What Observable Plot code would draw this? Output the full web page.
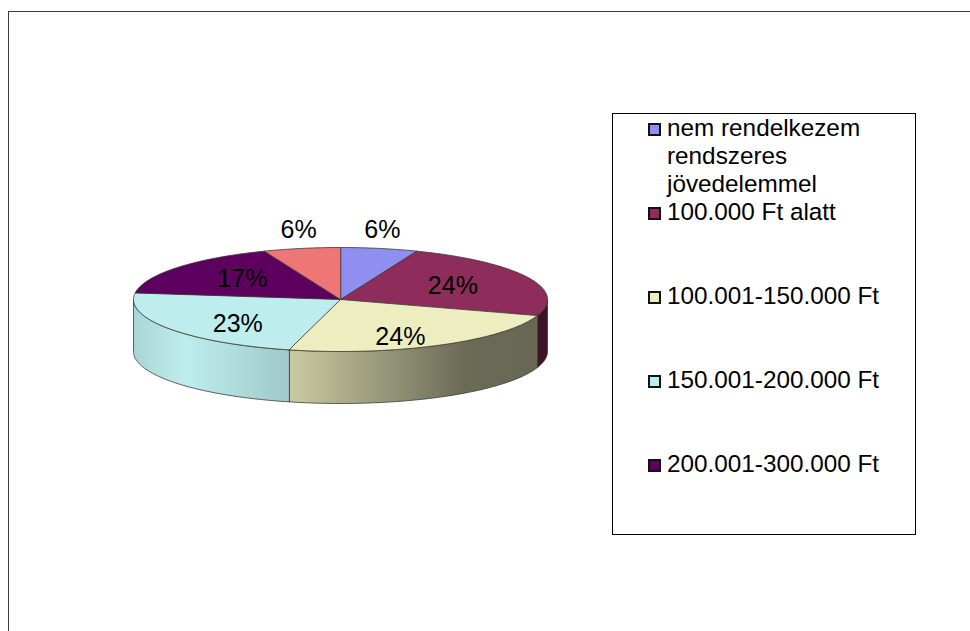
<!DOCTYPE html>
<html lang="hu">
<head>
<meta charset="utf-8">
<script src="https://cdn.jsdelivr.net/npm/d3@7"></script>
<script src="https://cdn.jsdelivr.net/npm/@observablehq/plot@0.6"></script>
<style>
  html, body { margin: 0; padding: 0; background: #fff; }
  #chart { position: relative; width: 970px; height: 631px; overflow: hidden; font-family: "Liberation Sans", Arial, sans-serif; }
  #frame { position: absolute; left: 8px; top: 11px; right: -10px; bottom: -10px; border-left: 1px solid #3c3c3c; border-top: 1px solid #3c3c3c; }
  #plot { position: absolute; left: 0; top: 0; }
  #legend { position: absolute; left: 612px; top: 113px; width: 302px; height: 420px; border: 1px solid #000; background: #fff; }
  .entry { position: absolute; left: 35px; font-size: 24.3px; line-height: 28px; color: #000; }
  .swatch { position: absolute; left: 0; top: 9px; width: 9px; height: 9px; border: 2px solid #111; }
  .label { position: absolute; left: 19px; top: 0; width: 230px; }
</style>
</head>
<body>
<div id="chart">
  <div id="frame"></div>
  <div id="plot"></div>
  <div id="legend"></div>
</div>
<script>
// Income brackets and their share of respondents (%)
const categories = [
  "nem rendelkezem rendszeres jövedelemmel",
  "100.000 Ft alatt",
  "100.001-150.000 Ft",
  "150.001-200.000 Ft",
  "200.001-300.000 Ft",
  "300.000 Ft felett"
];
const shares = [6, 24, 24, 23, 17, 6];
const colors = ["#8f8fef", "#8e2c5b", "#ededbf", "#bdeded", "#5e005e", "#ee7676"];
const legendEntries = 5; // the legend box lists the first five brackets

// Brightness of the pie's rim as a function of horizontal position (-1 … 1)
const rimShade = [[-1, 0.9], [-0.75, 1.0], [-0.2, 0.83], [0.6, 0.45], [1, 0.43]];
const DEPTH = 1.0; // thickness of the pie, in vertical radius units

const slices = d3.pie().sort(null).value(d => d)(shares);

function angles(a0, a1) {
  const n = Math.max(2, Math.ceil((a1 - a0) / (Math.PI / 180)));
  return d3.range(n + 1).map(i => a0 + (a1 - a0) * i / n);
}
const onTop = a => ({u: Math.sin(a), v: Math.cos(a)});

// Top faces of the slices
const tops = slices.map((s, i) => ({
  i,
  pts: [{u: 0, v: 0}, ...angles(s.startAngle, s.endAngle).map(onTop)]
}));

// Visible (front) part of each slice's rim
const rims = [];
slices.forEach((s, i) => {
  const a0 = Math.max(s.startAngle, Math.PI / 2);
  const a1 = Math.min(s.endAngle, 3 * Math.PI / 2);
  if (a0 >= a1) return;
  const upper = angles(a0, a1).map(onTop);
  const lower = upper.slice().reverse().map(p => ({u: p.u, v: p.v - DEPTH}));
  rims.push({i, pts: [...upper, ...lower]});
});

// Percent labels: small slices get theirs above the pie
const labels = slices.map((s, i) => {
  const mid = (s.startAngle + s.endAngle) / 2;
  const outside = shares[i] < 10;
  const rx = outside ? 1.08 : 0.6;
  const ry = outside ? 1.37 : 0.75;
  return {u: rx * Math.sin(mid), v: ry * Math.cos(mid), text: `${shares[i]}%`, outside};
});

const edge = {stroke: "#3a3a3a", strokeWidth: 0.8, strokeLinejoin: "round", curve: "linear-closed"};

const svg = Plot.plot({
  width: 970,
  height: 631,
  margin: 0,
  x: {domain: [-1, 1], range: [133, 547], axis: null},
  y: {domain: [-1, 1], range: [351, 247], axis: null},
  style: {background: "transparent", fontFamily: "'Liberation Sans', Arial, sans-serif", overflow: "visible"},
  marks: [
    ...rims.map(r => Plot.line(r.pts, {x: "u", y: "v", fill: `url(#rim-${r.i})`, ...edge})),
    ...tops.map(t => Plot.line(t.pts, {x: "u", y: "v", fill: colors[t.i], ...edge})),
    Plot.text(labels.filter(d => !d.outside), {x: "u", y: "v", text: "text", fontSize: 25, fill: "#000", dy: 3}),
    Plot.text(labels.filter(d => d.outside), {x: "u", y: "v", text: "text", fontSize: 25, fill: "#000"})
  ]
});

// Horizontal shading gradients for the rim of each slice
const xs = svg.scale("x");
const defs = d3.select(svg).insert("defs", ":first-child");
rims.forEach(r => {
  const base = d3.rgb(colors[r.i]);
  const g = defs.append("linearGradient")
    .attr("id", `rim-${r.i}`)
    .attr("gradientUnits", "userSpaceOnUse")
    .attr("x1", xs.apply(-1)).attr("x2", xs.apply(1))
    .attr("y1", 0).attr("y2", 0);
  rimShade.forEach(([u, f]) => {
    g.append("stop")
      .attr("offset", (u + 1) / 2)
      .attr("stop-color", d3.rgb(base.r * f, base.g * f, base.b * f).formatHex());
  });
});

document.getElementById("plot").appendChild(svg);

// Legend
const legend = d3.select("#legend");
categories.slice(0, legendEntries).forEach((name, i) => {
  const e = legend.append("div").attr("class", "entry").style("top", `${-0.5 + 84.2 * i}px`);
  e.append("div").attr("class", "swatch").style("background", colors[i]);
  e.append("div").attr("class", "label").text(name);
});
</script>
</body>
</html>
